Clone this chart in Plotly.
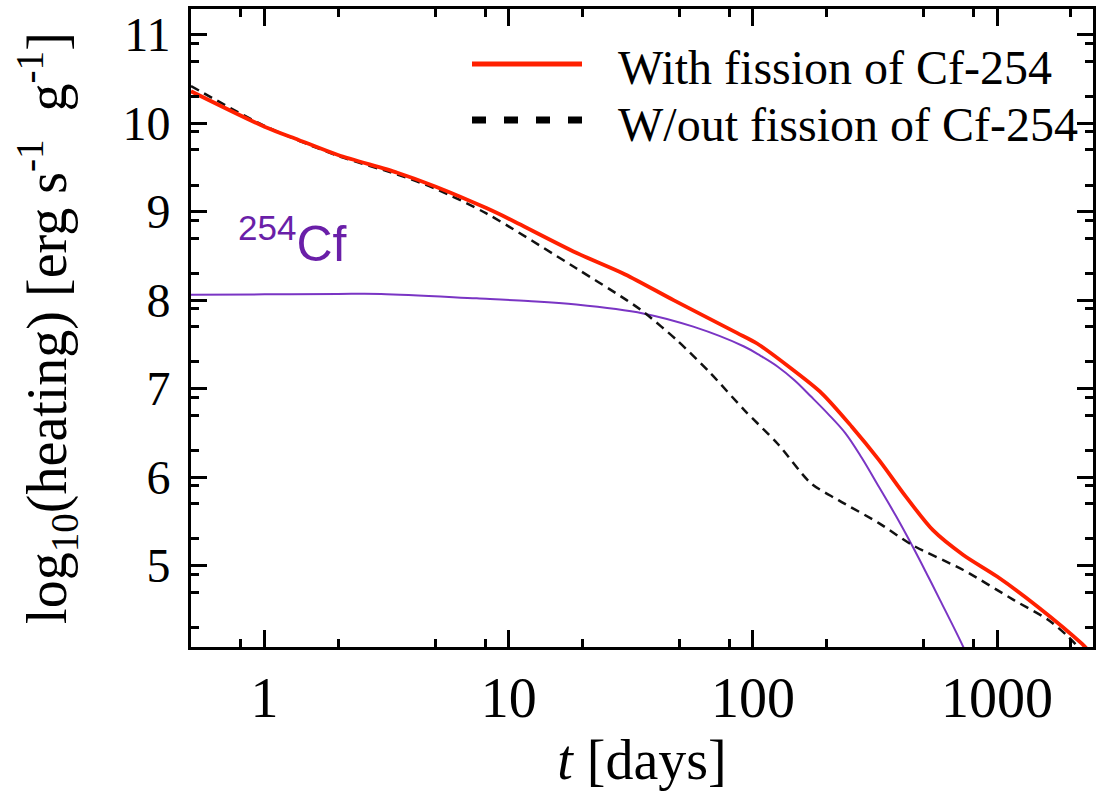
import numpy as np
import plotly.graph_objects as go

# ---- data ----
t_with = [0.5, 1, 1.38, 2, 3.5, 5, 8.1, 10, 18.9, 30, 47.3, 86, 104, 143, 191, 254, 328, 423, 546, 727, 1000, 1466, 2218, 2330]
v_with = [10.36, 9.96, 9.81, 9.64, 9.44, 9.285, 9.04, 8.92, 8.535, 8.29, 8.00, 7.63, 7.51, 7.23, 6.95, 6.57, 6.195, 5.78, 5.40, 5.12, 4.876, 4.536, 4.12, 4.06]

t_without = [0.5, 1, 2, 3.5, 5, 8.1, 18.9, 30.4, 35.5, 48.7, 67, 92, 126, 173, 224, 328, 451, 727, 1172, 1611, 1950, 2200]
v_without = [10.42, 9.97, 9.63, 9.42, 9.26, 8.98, 8.36, 8.00, 7.87, 7.55, 7.175, 6.76, 6.38, 5.93, 5.74, 5.48, 5.23, 4.95, 4.61, 4.39, 4.20, 4.05]

t_cf = [0.5, 1, 2, 3, 7.4, 12, 18.9, 35.5, 57, 92, 107.5, 126, 148, 173, 203, 239, 279, 328, 385, 451, 513, 584, 727, 760]
v_cf = [8.06, 8.065, 8.07, 8.07, 8.02, 7.99, 7.95, 7.85, 7.70, 7.476, 7.371, 7.25, 7.094, 6.91, 6.715, 6.497, 6.218, 5.89, 5.562, 5.215, 4.917, 4.61, 4.08, 3.95]

x_major = [1, 10, 100, 1000]
x_major_labels = ["1", "10", "100", "1000"]
x_minor = [0.8, 2, 5, 8, 20, 50, 80, 200, 500, 800, 2000]
y_major = [5, 6, 7, 8, 9, 10, 11]
y_minor = [n + np.log10(m) for n in range(4, 12) for m in (2, 5, 8)]

legend_labels = ["With fission of Cf-254", "W/out fission of Cf-254"]

RED = "#ff2000"
PURPLE_LINE = "#7a35c4"
PURPLE_TEXT = "#6a1fa8"
SERIF = "Liberation Serif, Times New Roman, serif"

fig = go.Figure()
fig.add_trace(go.Scatter(x=t_cf, y=v_cf, mode="lines", line=dict(color=PURPLE_LINE, width=2, shape="spline", smoothing=1.0), showlegend=False))
fig.add_trace(go.Scatter(x=t_without, y=v_without, mode="lines", line=dict(color="#111111", width=2.5, dash="9px,6px", shape="spline", smoothing=0.8), showlegend=False))
fig.add_trace(go.Scatter(x=t_with, y=v_with, mode="lines", line=dict(color=RED, width=3.8, shape="spline", smoothing=0.8), showlegend=False))

# plot area in pixels: x 191..1093, y 9..647
L, R, T, B = 191, 1093, 9, 647
W, H = R - L, B - T
def px(x):
    return (x - L) / W
def py(y):
    return (B - y) / H

# manual legend keys
fig.add_shape(type="line", xref="paper", yref="paper", x0=px(472), x1=px(582), y0=py(64), y1=py(64),
              line=dict(color=RED, width=5))
fig.add_shape(type="line", xref="paper", yref="paper", x0=px(472), x1=px(586), y0=py(120), y1=py(120),
              line=dict(color="black", width=7, dash="14px,18px"))
fig.add_annotation(xref="paper", yref="paper", x=px(616), y=py(67), text=legend_labels[0], showarrow=False,
                   xanchor="left", yanchor="middle", font=dict(family=SERIF, size=48, color="black"))
fig.add_annotation(xref="paper", yref="paper", x=px(616), y=py(124), text=legend_labels[1], showarrow=False,
                   xanchor="left", yanchor="middle", font=dict(family=SERIF, size=48, color="black"))

fig.add_annotation(xref="paper", yref="paper", x=px(236), y=py(240), text="<sup>254</sup>Cf", showarrow=False,
                   xanchor="left", yanchor="middle", font=dict(family="Liberation Sans, Arial, sans-serif", size=50, color=PURPLE_TEXT))

axis_common = dict(showline=True, linewidth=3, linecolor="black", mirror="ticks", ticks="inside",
                   tickwidth=2.5, tickcolor="black", showgrid=False, zeroline=False)

fig.update_xaxes(type="log", range=[np.log10(0.5), np.log10(2470)],
                 tickmode="array", tickvals=x_major, ticktext=x_major_labels, ticklen=17,
                 tickfont=dict(family=SERIF, size=56, color="black"),
                 minor=dict(tickmode="array", tickvals=x_minor, ticks="inside", ticklen=8, tickwidth=2.5, tickcolor="black", showgrid=False),
                 title=dict(text="<i>t</i> [days]", font=dict(family=SERIF, size=56, color="black"), standoff=6),
                 **axis_common)
fig.update_yaxes(range=[4.08, 11.29], tickmode="array", tickvals=y_major, ticklen=16,
                 tickfont=dict(family=SERIF, size=48, color="black"), ticklabelstandoff=8,
                 minor=dict(tickmode="array", tickvals=y_minor, ticks="inside", ticklen=8, tickwidth=2.5, tickcolor="black", showgrid=False),
                 title=dict(text="log<sub>10</sub>(heating) [erg s<sup>-1</sup>  g<sup>-1</sup>]",
                            font=dict(family=SERIF, size=56, color="black"), standoff=38),
                 **axis_common)

fig.update_layout(width=1118, height=798, margin=dict(l=L, r=1118 - R, t=T, b=798 - B, autoexpand=False),
                  plot_bgcolor="white", paper_bgcolor="white", showlegend=False)

fig.write_html("out.html")
